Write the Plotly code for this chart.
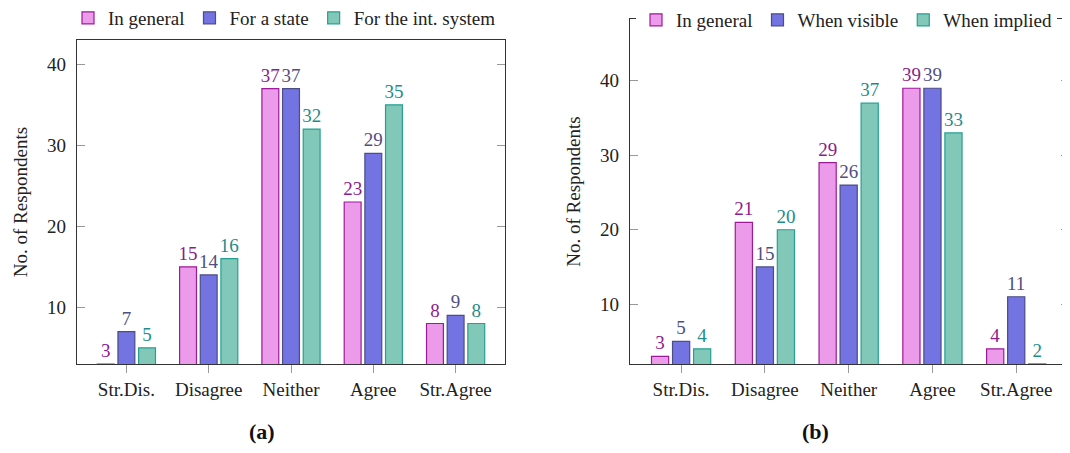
import plotly.graph_objects as go

categories = ["Str.Dis.", "Disagree", "Neither", "Agree", "Str.Agree"]

names_a = ["In general", "For a state", "For the int. system"]
general_a = [3, 15, 37, 23, 8]
state_a = [7, 14, 37, 29, 9]
intsys_a = [5, 16, 32, 35, 8]

names_b = ["In general", "When visible", "When implied"]
general_b = [3, 21, 29, 39, 4]
visible_b = [5, 15, 26, 39, 11]
implied_b = [4, 20, 37, 33, 2]

y_ticks = [10, 20, 30, 40]
panel_labels = ["<b>(a)</b>", "<b>(b)</b>"]

FONT = "Liberation Serif"
FS = 19
fills = ["#EB9BE9", "#7373E1", "#82C8B8"]
edges = ["#9E1A99", "#4C4C86", "#25A093"]
labcols = ["#8E1B8A", "#4F4F80", "#1E8C8C"]
W = 0.205
offsets = [-0.3535, -0.1025, 0.1485]

# page body has an 8px margin; size the figure so page fits the 1070x453 window
OFF = 8
W_PX, H_PX = 1062, 437

fig = go.Figure()

def add_panel(series, names, xa, ya, legend):
    for i, (vals, nm) in enumerate(zip(series, names)):
        fig.add_trace(go.Bar(
            x=categories, y=vals, name=nm,
            xaxis=xa, yaxis=ya, legend=legend,
            width=W, offset=offsets[i],
            marker=dict(color=fills[i], line=dict(color=edges[i], width=1.2)),
            texttemplate="%{y}", textposition="outside",
            textfont=dict(family=FONT, size=FS, color=labcols[i]),
            constraintext="none",
        ))

add_panel([general_a, state_a, intsys_a], names_a, "x", "y", "legend")
add_panel([general_b, visible_b, implied_b], names_b, "x2", "y2", "legend2")

def px_x(p):
    return (p - OFF) / W_PX

def px_y(p):
    return 1 - (p - OFF) / H_PX

axis_common_x = dict(
    type="category", showgrid=False, showline=True, linecolor="#333333", linewidth=1.2,
    mirror=True, ticks="outside", ticklen=8, tickcolor="#999999", tickwidth=1.2,
    tickfont=dict(family=FONT, size=FS, color="#222222"), zeroline=False,
)
axis_common_y = dict(
    showgrid=False, showline=True, linecolor="#333333", linewidth=1.2,
    mirror="ticks", ticks="inside", ticklen=8, tickcolor="#999999", tickwidth=1.2,
    tickvals=y_ticks, tickfont=dict(family=FONT, size=FS, color="#222222"),
    zeroline=False, ticklabelstandoff=6,
    title=dict(text="No. of Respondents", font=dict(family=FONT, size=FS, color="#222222"), standoff=14),
)

fig.update_layout(
    width=W_PX, height=H_PX,
    margin=dict(l=0, r=0, t=0, b=0, autoexpand=False),
    paper_bgcolor="white", plot_bgcolor="white",
    showlegend=True,
    xaxis=dict(domain=[px_x(77), px_x(505)], range=[-0.6, 4.6], anchor="y", **axis_common_x),
    yaxis=dict(domain=[px_y(364), px_y(40)], range=[3, 43], anchor="x", **axis_common_y),
    xaxis2=dict(domain=[px_x(630), min(1.0, px_x(1069))], range=[-0.61, 4.63], anchor="y2", **axis_common_x),
    yaxis2=dict(domain=[px_y(364), px_y(19)], range=[1.97, 48.3], anchor="x2", **axis_common_y),
    legend=dict(orientation="h", x=px_x(68), y=px_y(18), xanchor="left", yanchor="middle",
                font=dict(family=FONT, size=FS, color="#222222"), bgcolor="rgba(0,0,0,0)",
                itemwidth=30, tracegroupgap=0),
    legend2=dict(orientation="h", x=px_x(636), y=px_y(20), xanchor="left", yanchor="middle",
                 font=dict(family=FONT, size=FS, color="#222222"), bgcolor="white",
                 itemwidth=30, tracegroupgap=0),
    annotations=[
        dict(text=panel_labels[0], x=px_x(262), y=px_y(431), xref="paper", yref="paper",
             xanchor="center", yanchor="middle",
             showarrow=False, font=dict(family=FONT, size=22, color="#111111")),
        dict(text=panel_labels[1], x=px_x(815), y=px_y(431), xref="paper", yref="paper",
             xanchor="center", yanchor="middle",
             showarrow=False, font=dict(family=FONT, size=22, color="#111111")),
    ],
)

fig.write_html("out.html")
